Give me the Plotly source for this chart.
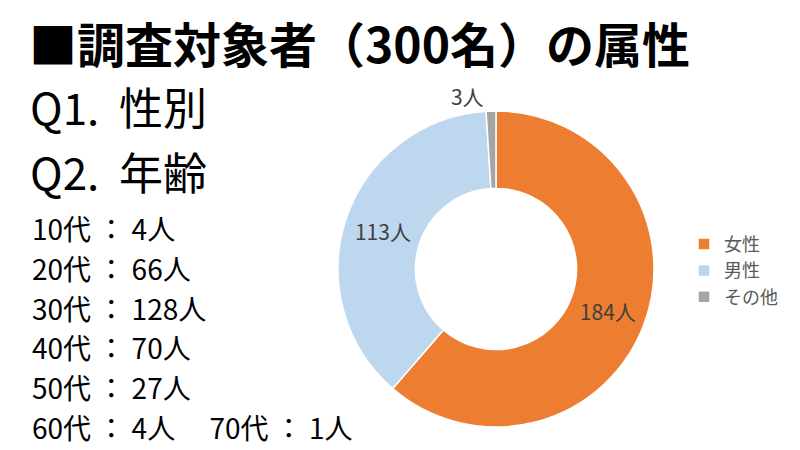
import plotly.graph_objects as go

title_text = "■調査対象者（300名）の属性"
q1_text = "Q1. 性別"
q2_text = "Q2. 年齢"

gender_labels = ["女性", "男性", "その他"]
gender_values = [184, 113, 3]
gender_colors = ["#ED7D31", "#BDD7EE", "#A5A5A5"]

age_labels = ["10代", "20代", "30代", "40代", "50代", "60代", "70代"]
age_values = [4, 66, 128, 70, 27, 4, 1]

W, H = 800, 450
FONT = "Noto Sans CJK JP"

fig = go.Figure()

cx, cy, r = 488, 261, 158
fig.add_trace(go.Pie(
    labels=gender_labels,
    values=gender_values,
    marker=dict(colors=gender_colors, line=dict(color="white", width=1.5)),
    hole=0.51,
    sort=False,
    direction="clockwise",
    rotation=0,
    texttemplate="%{value}人",
    textposition=["inside", "inside", "outside"],
    insidetextorientation="horizontal",
    textfont=dict(family=FONT, size=21, color="#404040"),
    hoverinfo="label+value",
    domain=dict(x=[(cx - r) / W, (cx + r) / W], y=[1 - (cy + r) / H, 1 - (cy - r) / H]),
))

def px_x(x):
    return x / W

def px_y(y):
    return 1 - y / H

annotations = []
annotations.append(dict(text="<b>" + title_text + "</b>", x=px_x(19), y=px_y(34),
                        xanchor="left", yanchor="middle", showarrow=False, height=60,
                        font=dict(family=FONT, size=48, color="#000000")))
annotations.append(dict(text=q1_text.replace(" ", "  "), x=px_x(20), y=px_y(98),
                        xanchor="left", yanchor="middle", showarrow=False, height=56,
                        font=dict(family=FONT, size=44, color="#000000")))
annotations.append(dict(text=q2_text.replace(" ", "  "), x=px_x(20), y=px_y(163),
                        xanchor="left", yanchor="middle", showarrow=False, height=56,
                        font=dict(family=FONT, size=44, color="#000000")))

lines = [f"{age_labels[i]} ： {age_values[i]}人" for i in range(5)]
lines.append(f"{age_labels[5]} ： {age_values[5]}人　 {age_labels[6]} ： {age_values[6]}人")
for i, line in enumerate(lines):
    annotations.append(dict(text=line, x=px_x(22), y=px_y(220 + i * 39.8),
                            xanchor="left", yanchor="middle", showarrow=False,
                            font=dict(family=FONT, size=28, color="#000000")))

fig.update_layout(
    width=W, height=H,
    margin=dict(l=0, r=0, t=0, b=0),
    paper_bgcolor="white", plot_bgcolor="white",
    annotations=annotations,
    showlegend=True,
    legend=dict(x=0.845, y=0.416, xanchor="left", yanchor="middle",
                font=dict(family=FONT, size=18, color="#595959"),
                bgcolor="rgba(0,0,0,0)"),
)

fig.write_html("out.html")
